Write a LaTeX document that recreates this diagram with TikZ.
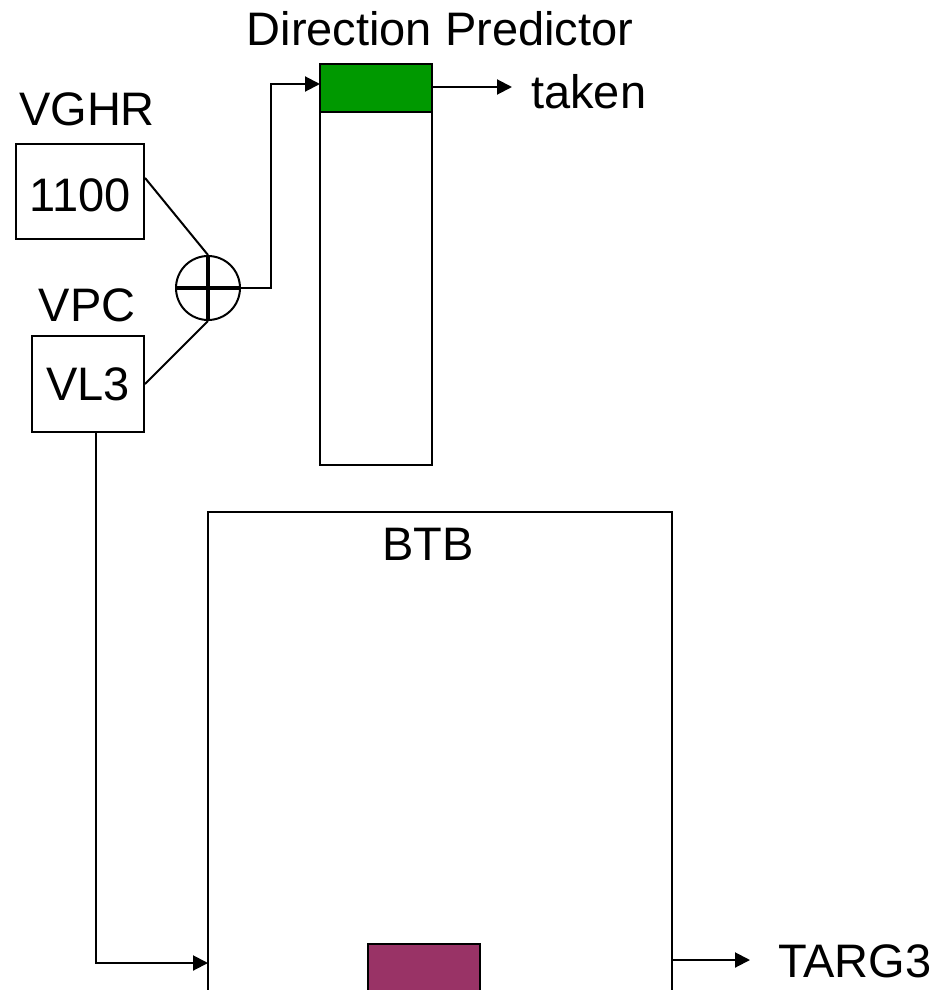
\documentclass[tikz,border=0pt]{standalone}
\usepackage{fontspec}
\setmainfont{Liberation Sans}
\usetikzlibrary{arrows.meta,calc}
\definecolor{predgreen}{HTML}{009900}
\definecolor{btbmag}{HTML}{993366}
\tikzset{
  box/.style={draw=black,line width=2pt,inner sep=0pt,fill=white},
  lbl/.style={inner sep=0pt,font=\fontsize{47}{56}\selectfont},
  wire/.style={line width=2pt},
  arr/.style={wire,-{Triangle[length=15pt,width=15pt]}},
}
\begin{document}
\begin{tikzpicture}[x=1pt,y=-1pt]
\useasboundingbox[fill=white] (0,0) rectangle (936,990);
\clip (0,0) rectangle (936,990);
% labels
\node[lbl,anchor=base] (tghr) at (87,125) {VGHR};
\node[lbl,anchor=base] (tvpc) at (87,321) {VPC};
\node[lbl,anchor=base] (tdp) at (440,46) {Direction Predictor};
\node[lbl,anchor=base west] (ttaken) at (531,108) {taken};
\node[lbl,anchor=base] (tbtb) at (428,560) {BTB};
\node[lbl,anchor=base west] (ttarg) at (778,977) {TARG3};
% registers
\node[box,minimum width=128pt,minimum height=95pt] (ghr) at (80,191.5) {};
\node[lbl,anchor=base] (tghrv) at (80,211) {1100};
\node[box,lbl,minimum width=112pt,minimum height=96pt] (vpc) at (88,384) {VL3};
% xor
\node[draw,circle,line width=2pt,minimum size=64pt,inner sep=0pt] (xor) at (208,288) {};
\draw[line width=4pt] (xor.north) -- (xor.south) (xor.west) -- (xor.east);
% predictor table
\node[box,minimum width=112pt,minimum height=401pt] (pred) at (376,264.5) {};
\node[box,fill=predgreen,minimum width=112pt,minimum height=48pt] (green) at (376,88) {};
% BTB
\draw[line width=2pt] (208,1010) -- (208,512) -- (672,512) -- (672,1010);
\coordinate (btbw) at (208,963);
\coordinate (btbe) at (672,960);
\node[box,fill=btbmag,minimum width=112pt,minimum height=70pt,anchor=north] (entry) at (424,943) {};
% connectors
\draw[wire] ($(ghr.north east)!0.36!(ghr.south east)$) -- (xor.north);
\draw[wire] (vpc.east) -- (xor.south);
\coordinate (up) at (271,84);
\draw[arr] (xor.east) -| (up) -- (320,84);
\coordinate (takenend) at (512,87);
\draw[arr] (432,87) -- (takenend);
\coordinate (vdown) at (96,432);
\draw[arr] (vdown) |- (btbw);
\coordinate (targend) at (750,960);
\draw[arr] (btbe) -- (targend);
\end{tikzpicture}
\end{document}
